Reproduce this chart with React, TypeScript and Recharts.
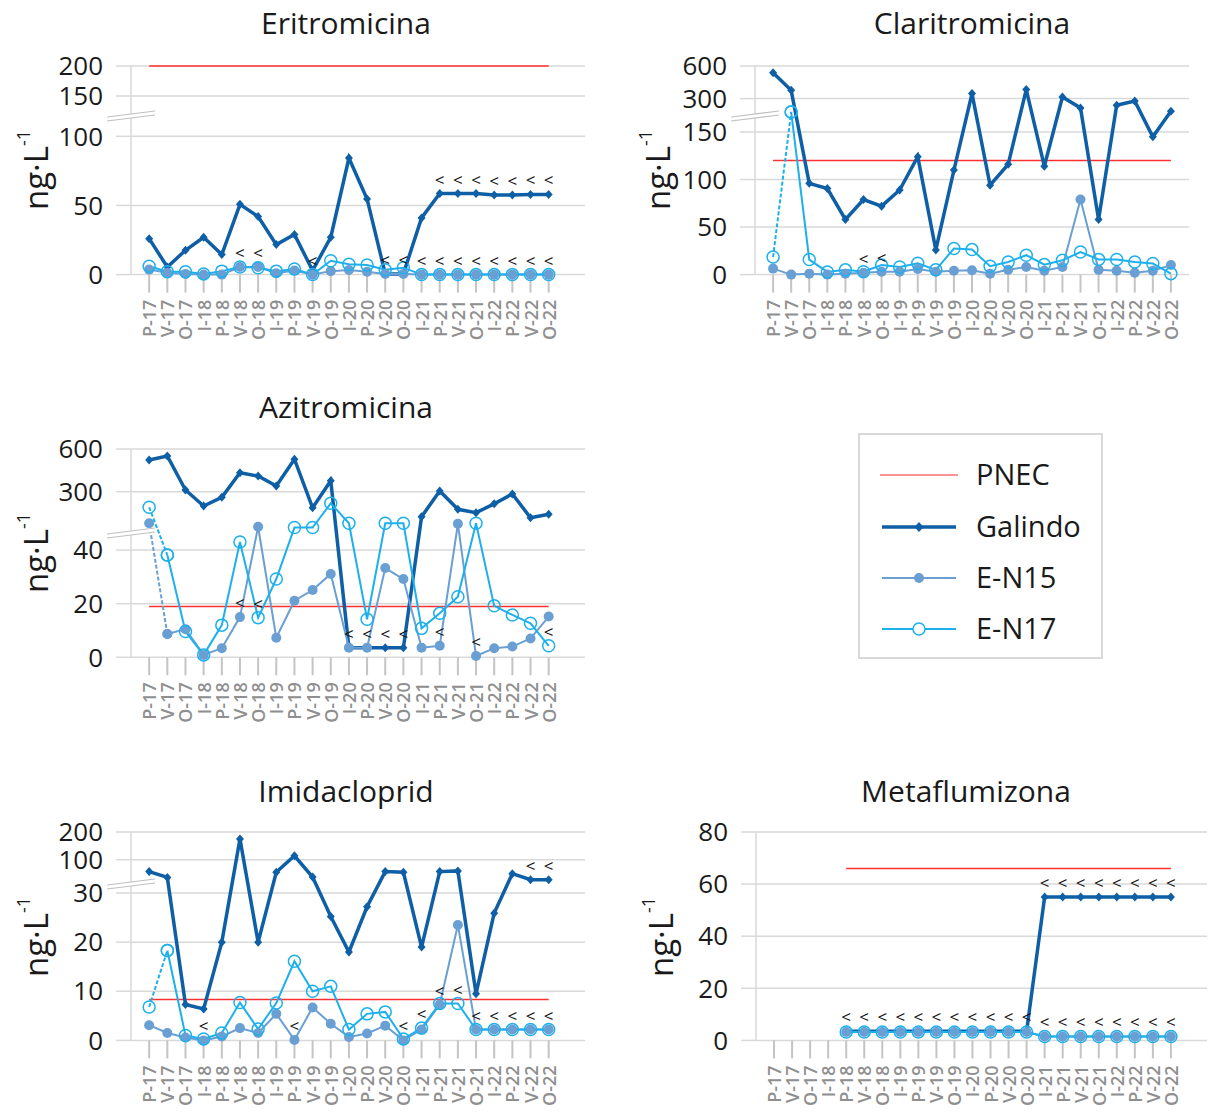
import React from 'react'
import { LineChart, Line, XAxis, YAxis, CartesianGrid, LabelList } from 'recharts'

const periods = [
  'P-17', 'V-17', 'O-17', 'I-18', 'P-18', 'V-18', 'O-18', 'I-19', 'P-19', 'V-19', 'O-19', 'I-20',
  'P-20', 'V-20', 'O-20', 'I-21', 'P-21', 'V-21', 'O-21', 'I-22', 'P-22', 'V-22', 'O-22',
]

// Eritromicina
const eritroGalindo = [26, 5.5, 17.6, 27, 14.5, 50.8, 42, 21.7, 29, 3, 27, 84.3, 54.7, 0.5, 0.5, 41, 58.6, 58.6, 58.6, 57.5, 57.5, 58, 58]
const eritroEN15 = [3.6, 1.4, 0.5, 0, 0, 5.5, 5.5, 1, 3, 0, 2.5, 3.3, 2, 0.5, 0.5, 0, 0, 0, 0, 0, 0, 0, 0]
const eritroEN17 = [6, 2, 2, 0.5, 2.5, 5.5, 5, 2.5, 4, 0, 10, 7.5, 7, 3.5, 5, 0, 0, 0, 0, 0, 0, 0, 0]
const eritroPnec = 200
const eritroTicks = [0, 50, 100, 150, 200]

// Claritromicina
const claritroGalindo = [539, 376, 96, 90.5, 58, 79, 72, 89, 124, 26, 110, 346, 94, 116, 383, 114, 315, 258, 58, 270, 289, 145, 243]
const claritroEN15 = [6.3, 0, 1, 0, 1, 2, 3, 3, 6, 3, 4, 4.5, 1, 5, 8, 4, 8, 79, 5, 4, 2, 4, 10]
const claritroEN17 = [18.5, 240, 15.8, 2.8, 5, 3, 10, 8, 12, 5, 27.4, 26.3, 8.8, 13.3, 20.4, 10.5, 15, 23.8, 16, 15.8, 13.3, 11.6, 1]
const claritroPnec = 120
const claritroTicks = [0, 50, 100, 150, 300, 600]

// Azitromicina
const azitroGalindo = [523, 551, 312, 187, 256, 433, 410, 340, 528, 173, 377, 3.6, 3.6, 3.6, 3.6, 102, 305, 161, 134, 204, 282, 94, 121]
const azitroEN15 = [50, 8.7, 10.5, 0.9, 3.4, 15, 48.7, 7.3, 21.1, 25.1, 31.1, 3.6, 3.6, 33.3, 29.2, 3.6, 4.3, 49.8, 0.5, 3.4, 4, 7, 15.2]
const azitroEN17 = [177, 38.2, 9.6, 0.9, 12, 43, 14.8, 29.2, 48.4, 48.4, 208, 50, 14.2, 50, 50, 10.8, 16.4, 22.6, 50, 19.2, 15.8, 12.7, 4.3]
const azitroPnec = 19
const azitroTicks = [0, 20, 40, 300, 600]

// Imidacloprid
const imidaGalindo = [75, 62.8, 7.3, 6.4, 20, 175, 20, 73.6, 114, 63.5, 25.2, 18, 27.2, 75, 73.6, 19, 75, 76.5, 9.5, 25.9, 70.6, 58, 58]
const imidaEN15 = [3.1, 1.5, 0.6, 0, 0.8, 2.5, 1.5, 5.4, 0.1, 6.7, 3.4, 0.7, 1.4, 3, 0, 2.2, 7.3, 23.5, 2.2, 2.2, 2.2, 2.2, 2.2]
const imidaEN17 = [6.8, 18.3, 1, 0.3, 1.5, 7.7, 2.3, 7.6, 16.1, 10, 11, 2.2, 5.4, 5.8, 0.3, 2.5, 7.5, 7.5, 2.2, 2.2, 2.2, 2.2, 2.2]
const imidaPnec = 8.3
const imidaTicks = [0, 10, 20, 30, 100, 200]

// Metaflumizona (no samples before P-18)
const metaGalindo = [null, null, null, null, 3.5, 3.5, 3.5, 3.5, 3.5, 3.5, 3.5, 3.5, 3.5, 3.5, 3.5, 55, 55, 55, 55, 55, 55, 55, 55]
const metaEN15 = [null, null, null, null, 3.2, 3.2, 3.2, 3.2, 3.2, 3.2, 3.2, 3.2, 3.2, 3.2, 3.2, 1.5, 1.5, 1.5, 1.5, 1.5, 1.5, 1.5, 1.5]
const metaEN17 = [null, null, null, null, 3.2, 3.2, 3.2, 3.2, 3.2, 3.2, 3.2, 3.2, 3.2, 3.2, 3.2, 1.5, 1.5, 1.5, 1.5, 1.5, 1.5, 1.5, 1.5]
const metaPnec = 66
const metaTicks = [0, 20, 40, 60, 80]

// "<" (below quantification limit) markers: period indices per series
const eritroLt = { g: [13, 14, 16, 17, 18, 19, 20, 21, 22], n15: [5, 6, 9, 15, 16, 17, 18, 19, 20, 21, 22], n17: [] }
const claritroLt = { g: [], n15: [5, 6], n17: [] }
const azitroLt = { g: [11, 12, 13, 14], n15: [5, 16, 18], n17: [6, 22] }
const imidaLt = { g: [21, 22], n15: [3, 8, 14, 16, 18, 19, 20, 21, 22], n17: [15, 17] }
const metaLt = { g: [4, 5, 6, 7, 8, 9, 10, 11, 12, 13, 14, 15, 16, 17, 18, 19, 20, 21, 22], n15: [15, 16, 17, 18, 19, 20, 21, 22], n17: [] }

const GAL = '#0e5fa6'
const N15 = '#6a9fd3'
const N17 = '#1db0ec'
const RED = '#ff3030'
const GRID = '#d9d9d9'
const FONT = '"Open Sans", "Noto Sans", sans-serif'

type Knot = [number, number]
type Vals = (number | null)[]

// broken axis: piecewise linear map value -> pixel height above zero
function makeMap(knots: Knot[]) {
  return (v: number) => {
    for (let k = 1; k < knots.length; k++) {
      const [v0, h0] = knots[k - 1]
      const [v1, h1] = knots[k]
      if (v <= v1 || k === knots.length - 1) return h0 + ((v - v0) / (v1 - v0)) * (h1 - h0)
    }
    return 0
  }
}

const diamondDot = (p: any) => {
  if (p.cy == null || p.cx == null) return <g key={`gd-${p.index}`} />
  const { cx, cy } = p
  return <polygon key={`gd-${p.index}`} points={`${cx},${cy - 4.5} ${cx + 4},${cy} ${cx},${cy + 4.5} ${cx - 4},${cy}`} fill={GAL} />
}
const filledDot = (p: any) => {
  if (p.cy == null || p.cx == null) return <g key={`fd-${p.index}`} />
  return <circle key={`fd-${p.index}`} cx={p.cx} cy={p.cy} r={5} fill={N15} />
}
const openDot = (p: any) => {
  if (p.cy == null || p.cx == null) return <g key={`od-${p.index}`} />
  return <circle key={`od-${p.index}`} cx={p.cx} cy={p.cy} r={6} fill="none" stroke={N17} strokeWidth={1.5} />
}

const ltLabel = (p: any) => {
  if (!p.value || p.x == null || p.y == null) return null
  return (
    <text x={p.x} y={p.y - 8} textAnchor="middle" fontSize={17} fill="#111" fontFamily={FONT}>
      {'<'}
    </text>
  )
}

const PeriodTick = (p: any) => {
  const x = p.x
  const y = p.y + 5
  return (
    <text x={x} y={y} transform={`rotate(-90, ${x}, ${y})`} textAnchor="end" dominantBaseline="central" fontSize={18} fontWeight={600} fill="#8f8f8f" fontFamily={FONT}>
      {periods[p.payload.value]}
    </text>
  )
}

interface PanelProps {
  title: string
  titleX: number
  titleY: number
  unitX: number
  axisX: number
  rightX: number
  topY: number
  zeroY: number
  xMax: number
  knots: Knot[]
  ticks: number[]
  breakH?: number
  galindo: Vals
  en15: Vals
  en17: Vals
  pnec: number
  pnecFrom?: number
  dash15?: boolean
  dash17?: boolean
  lt: { g: number[]; n15: number[]; n17: number[] }
}

function Panel(props: PanelProps) {
  const { axisX, rightX, topY, zeroY, knots, ticks } = props
  const map = makeMap(knots)
  const top = knots[knots.length - 1][1]
  const left = axisX - 90
  const chartTop = topY - 20
  const width = rightX - left + 5
  const height = zeroY + 80 - chartTop
  const pnecFrom = props.pnecFrom ?? 0

  const cv = (v: number | null | undefined) => (v == null ? null : map(v))
  const data = periods.map((_, i) => ({
    i,
    pnec: i >= pnecFrom ? map(props.pnec) : null,
    g: cv(props.galindo[i]),
    n15: props.dash15 && i === 0 ? null : cv(props.en15[i]),
    n17: props.dash17 && i === 0 ? null : cv(props.en17[i]),
    n15d: i <= 1 ? cv(props.en15[i]) : null,
    n17d: i <= 1 ? cv(props.en17[i]) : null,
    gLt: props.lt.g.includes(i) ? 1 : 0,
    n15Lt: props.lt.n15.includes(i) ? 1 : 0,
    n17Lt: props.lt.n17.includes(i) ? 1 : 0,
  }))
  const tickPos = ticks.map(map)
  const xTicks = periods.map((_, i) => i)

  return (
    <>
      <div style={{ position: 'absolute', left: props.titleX, top: props.titleY, transform: 'translate(-50%, -50%)', fontSize: 30, color: '#1a1a1a', whiteSpace: 'nowrap' }}>
        {props.title}
      </div>
      <div style={{ position: 'absolute', left: props.unitX, top: (topY + zeroY) / 2, transform: 'translate(-50%, -50%) rotate(-90deg)', fontSize: 33, color: '#1a1a1a', whiteSpace: 'nowrap' }}>
        ng·L<sup style={{ fontSize: 18, verticalAlign: 'top', position: 'relative', top: -2 }}>-1</sup>
      </div>
      <div style={{ position: 'absolute', left, top: chartTop }}>
        <LineChart width={width} height={height} data={data} margin={{ top: 20, right: 5, bottom: 10, left: 0 }}>
          <CartesianGrid vertical={false} stroke={GRID} strokeWidth={1.5} />
          <XAxis
            type="number"
            dataKey="i"
            domain={[-1, props.xMax]}
            ticks={xTicks}
            interval={0}
            axisLine={false}
            tickLine={{ stroke: '#c4c4c4', strokeWidth: 2 }}
            tickSize={18}
            height={70}
            tick={<PeriodTick />}
          />
          <YAxis
            type="number"
            domain={[0, top]}
            ticks={tickPos}
            interval={0}
            width={90}
            axisLine={{ stroke: GRID, strokeWidth: 1.5 }}
            tickLine={{ stroke: GRID, strokeWidth: 1.5 }}
            tickSize={15}
            tickMargin={13}
            tick={{ fontSize: 26, fill: '#1a1a1a', fontFamily: FONT }}
            tickFormatter={(v: number) => {
              let best = 0
              tickPos.forEach((t, k) => {
                if (Math.abs(t - v) < Math.abs(tickPos[best] - v)) best = k
              })
              return String(ticks[best])
            }}
          />
          <Line dataKey="pnec" stroke={RED} strokeWidth={1.5} dot={false} activeDot={false} isAnimationActive={false} />
          <Line dataKey="g" stroke={GAL} strokeWidth={3.5} dot={diamondDot} activeDot={false} isAnimationActive={false}>
            <LabelList dataKey="gLt" content={ltLabel} />
          </Line>
          {props.dash15 && (
            <Line dataKey="n15d" stroke={N15} strokeWidth={2} strokeDasharray="4 2" dot={filledDot} activeDot={false} isAnimationActive={false} />
          )}
          <Line dataKey="n15" stroke={N15} strokeWidth={2} dot={filledDot} activeDot={false} isAnimationActive={false}>
            <LabelList dataKey="n15Lt" content={ltLabel} />
          </Line>
          {props.dash17 && (
            <Line dataKey="n17d" stroke={N17} strokeWidth={2} strokeDasharray="4 2" dot={openDot} activeDot={false} isAnimationActive={false} />
          )}
          <Line dataKey="n17" stroke={N17} strokeWidth={2} dot={openDot} activeDot={false} isAnimationActive={false}>
            <LabelList dataKey="n17Lt" content={ltLabel} />
          </Line>
        </LineChart>
      </div>
      {props.breakH != null && (
        <svg style={{ position: 'absolute', left: axisX - 24, top: zeroY - props.breakH - 8 }} width={48} height={16}>
          <polygon points="0,12 48,6 48,2 0,8" fill="#fff" />
          <line x1={0} y1={12} x2={48} y2={6} stroke="#bfbfbf" strokeWidth={1.2} />
          <line x1={0} y1={8} x2={48} y2={2} stroke="#bfbfbf" strokeWidth={1.2} />
        </svg>
      )}
    </>
  )
}

function LegendBox() {
  const rows = [
    { name: 'PNEC', y: 473 },
    { name: 'Galindo', y: 525 },
    { name: 'E-N15', y: 576 },
    { name: 'E-N17', y: 627 },
  ]
  return (
    <div style={{ position: 'absolute', left: 858, top: 433, width: 241, height: 222, border: '2px solid #d9d9d9' }}>
      <svg style={{ position: 'absolute', left: 0, top: 0 }} width={241} height={222}>
        <line x1={20} x2={98} y1={40} y2={40} stroke={RED} strokeWidth={1.5} opacity={0.7} />
        <line x1={22} x2={96} y1={92} y2={92} stroke={GAL} strokeWidth={3.5} />
        <polygon points="59,87 63.5,92 59,97 54.5,92" fill={GAL} />
        <line x1={22} x2={96} y1={143} y2={143} stroke={N15} strokeWidth={2} />
        <circle cx={59} cy={143} r={5} fill={N15} />
        <line x1={22} x2={96} y1={194} y2={194} stroke={N17} strokeWidth={2} />
        <circle cx={59} cy={194} r={6} fill="#fff" stroke={N17} strokeWidth={1.5} />
      </svg>
      {rows.map((r) => (
        <div key={r.name} style={{ position: 'absolute', left: 116, top: r.y - 433 - 2, transform: 'translateY(-50%)', fontSize: 29, color: '#1a1a1a' }}>
          {r.name}
        </div>
      ))}
    </div>
  )
}

export default function App() {
  return (
    <div style={{ position: 'relative', width: 1208, height: 1113, background: '#fff', fontFamily: FONT, overflow: 'hidden' }}>
      <style>{'body{margin:0}'}</style>
      <Panel
        title="Eritromicina" titleX={346} titleY={22} unitX={35}
        axisX={131} rightX={585} topY={65.7} zeroY={274.3} xMax={24}
        knots={[[0, 0], [100, 138.3], [150, 178.6], [200, 208.6]]} ticks={eritroTicks} breakH={157}
        galindo={eritroGalindo} en15={eritroEN15} en17={eritroEN17} pnec={eritroPnec} lt={eritroLt}
      />
      <Panel
        title="Claritromicina" titleX={972} titleY={22} unitX={657}
        axisX={755} rightX={1189} topY={65.7} zeroY={274.3} xMax={23}
        knots={[[0, 0], [150, 142.6], [300, 176], [600, 208.6]]} ticks={claritroTicks} breakH={157.6}
        galindo={claritroGalindo} en15={claritroEN15} en17={claritroEN17} pnec={claritroPnec} lt={claritroLt}
        dash17
      />
      <Panel
        title="Azitromicina" titleX={346} titleY={406} unitX={35}
        axisX={131} rightX={585} topY={449} zeroY={657.3} xMax={24}
        knots={[[0, 0], [50, 134], [300, 165.6], [600, 208.3]]} ticks={azitroTicks} breakH={123.6}
        galindo={azitroGalindo} en15={azitroEN15} en17={azitroEN17} pnec={azitroPnec} lt={azitroLt}
        dash15 dash17
      />
      <Panel
        title="Imidacloprid" titleX={346} titleY={790} unitX={35}
        axisX={131} rightX={585} topY={832.3} zeroY={1040.7} xMax={24}
        knots={[[0, 0], [30, 147.4], [100, 180.7], [200, 208.4]]} ticks={imidaTicks} breakH={155.7}
        galindo={imidaGalindo} en15={imidaEN15} en17={imidaEN17} pnec={imidaPnec} lt={imidaLt}
        dash17
      />
      <Panel
        title="Metaflumizona" titleX={966} titleY={790} unitX={660}
        axisX={756} rightX={1207} topY={832.3} zeroY={1040.7} xMax={24}
        knots={[[0, 0], [80, 208.4]]} ticks={metaTicks}
        galindo={metaGalindo} en15={metaEN15} en17={metaEN17} pnec={metaPnec} pnecFrom={4} lt={metaLt}
      />
      <LegendBox />
    </div>
  )
}
